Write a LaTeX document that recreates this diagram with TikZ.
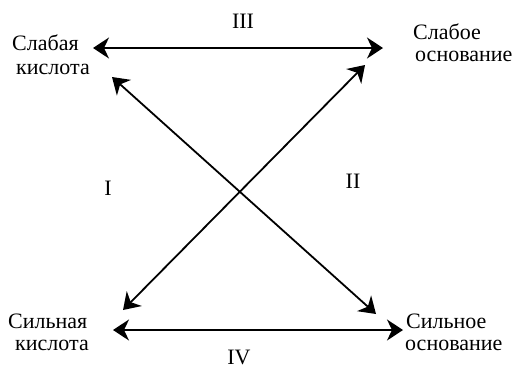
\documentclass[tikz,border=0pt]{standalone}
\usepackage{fontspec}
\setmainfont{Liberation Serif}
\usetikzlibrary{arrows.meta}
\begin{document}
\begin{tikzpicture}[x=1pt,y=-1pt,
  lbl/.style={anchor=base west,inner sep=0pt,font=\fontsize{22}{26}\selectfont},
  num/.style={anchor=base,inner sep=0pt,font=\fontsize{22}{26}\selectfont},
  arr/.style={line width=1.8pt,{Stealth[length=16pt,width=21pt,inset=5pt]}-{Stealth[length=16pt,width=21pt,inset=5pt]}}]
\useasboundingbox (0,0) rectangle (513,368);
% labels
\node[lbl] (wa1) at (12,50) {Слабая};
\node[lbl] (wa2) at (16,74) {кислота};
\node[lbl] (wb1) at (413,39) {Слабое};
\node[lbl] (wb2) at (415,61) {основание};
\node[lbl] (sa1) at (8,328) {Сильная};
\node[lbl] (sa2) at (15,350) {кислота};
\node[lbl] (sb1) at (406,328) {Сильное};
\node[lbl] (sb2) at (405,350) {основание};
\node[num] (n3) at (243,28) {III};
\node[num] (n4) at (239,364) {IV};
\node[num] (n1) at (108,195) {I};
\node[num] (n2) at (353,188) {II};
% arrow ends
\coordinate (tl) at (93,48);
\coordinate (tr) at (383,48);
\coordinate (bl) at (113,330);
\coordinate (br) at (403,330);
\coordinate (d1a) at (112,77);
\coordinate (d1b) at (376,314);
\coordinate (d2a) at (365,65);
\coordinate (d2b) at (123,310);
\draw[arr] (tl) -- (tr);
\draw[arr] (bl) -- (br);
\draw[arr] (d1a) -- (d1b);
\draw[arr] (d2a) -- (d2b);
\end{tikzpicture}
\end{document}
